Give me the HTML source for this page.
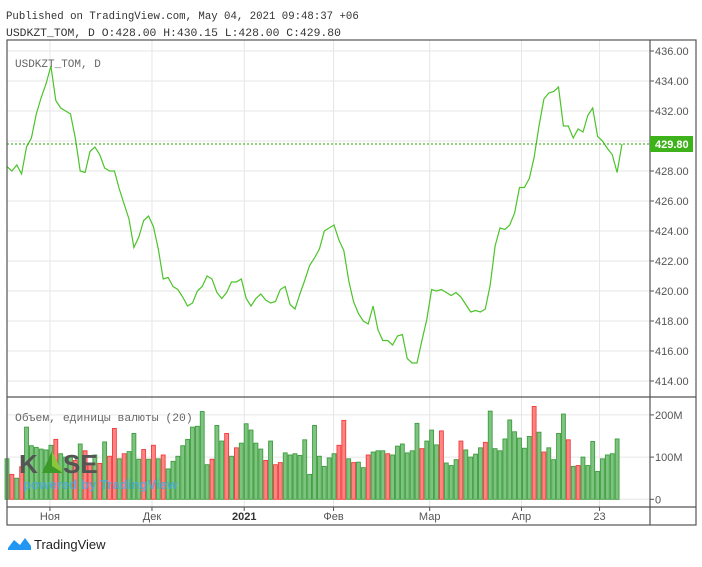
<!DOCTYPE html>
<html><head><meta charset="utf-8"><style>
body{margin:0;background:#fff;width:702px;height:562px;overflow:hidden}
svg text{font-family:"Liberation Sans",sans-serif}
</style></head><body>
<svg id="c" width="702" height="562" xmlns="http://www.w3.org/2000/svg">
<text x="6" y="19" font-size="10.7" fill="#333" style="font-family:'Liberation Mono',monospace">Published on TradingView.com, May 04, 2021 09:48:37 +06</text>
<text x="6" y="36" font-size="11.4" fill="#333" style="font-family:'Liberation Mono',monospace">USDKZT_TOM, D O:428.00 H:430.15 L:428.00 C:429.80</text>
<g id="grid"></g>
<g id="vol"></g>
<g id="logo">
<text x="19" y="473" font-size="26" font-weight="bold" fill="#555">K</text>
<polygon points="42,473 52,451 63,473" fill="#3c9a2a"/>
<polygon points="52,451 63,473 52,466" fill="#8cc63f"/>
<text x="63" y="473" font-size="26" font-weight="bold" fill="#555">SE</text>
<text x="23" y="489" font-size="13.2" font-weight="bold" fill="#4aa8e0" fill-opacity="0.8">powered by TradingView</text>
</g>
<g id="price"></g>
<g id="axes"></g>
<text x="15" y="67" font-size="11" fill="#666" style="font-family:'Liberation Mono',monospace">USDKZT_TOM, D</text>
<text x="15" y="421" font-size="11.4" fill="#666" style="font-family:'Liberation Mono',monospace">Объем, единицы валюты (20)</text>
<g>
<path d="M8,548 L14,540 L20,545 L25,538 L31,546 L31,550 L8,550Z" fill="#2196f3"/>
<text x="34" y="549" font-size="13" fill="#222">TradingView</text>
</g>
</svg>
<script>
const prices=[428.3,428.0,428.4,427.8,429.6,430.2,431.8,432.9,433.8,435.0,432.7,432.2,432.0,431.8,430.2,428.0,427.9,429.3,429.6,429.1,428.2,428.0,428.0,426.8,425.8,424.8,422.9,423.6,424.7,425.0,424.3,422.8,420.8,420.9,420.3,420.1,419.6,419.0,419.2,420.0,420.3,421.0,420.8,419.9,419.5,419.9,420.6,420.6,420.8,419.5,419.0,419.5,419.8,419.4,419.2,419.3,420.1,420.3,419.1,418.8,419.8,420.7,421.7,422.2,422.8,424.0,424.2,424.4,423.4,422.7,420.7,419.3,418.5,418.0,417.8,419.0,417.4,416.7,416.7,416.4,417.0,417.1,415.5,415.2,415.2,416.7,418.1,420.1,420.0,420.1,419.9,419.7,419.9,419.6,419.1,418.6,418.7,418.6,418.8,420.4,423.0,424.2,424.1,424.4,425.2,426.9,426.9,427.5,428.9,431.0,432.8,433.2,433.3,433.6,431.0,431.0,430.2,430.8,430.6,431.7,432.2,430.3,430.0,429.5,429.1,427.9,429.8];
const volumes=[96,59,50,77,171,127,123,119,117,128,142,108,100,100,92,131,115,85,105,85,136,102,168,96,108,113,156,95,118,95,128,96,105,72,90,102,127,142,171,173,208,82,95,175,138,156,102,122,133,179,164,133,119,92,138,82,87,110,105,108,104,141,59,175,102,78,98,108,128,187,96,87,88,75,105,112,115,115,108,105,126,131,110,115,180,120,138,164,129,162,86,80,94,138,117,100,107,122,135,209,120,115,143,188,160,145,121,149,220,159,112,122,94,156,202,141,78,80,100,80,137,66,96,105,108,143];
const volUp="GRGRGGGGGGRGGGRGRRGRGRRGRGGGRGRGRGGGGGGGGGRGGRGRGGGGGRGRRGGGGGGGGGGGRRGRGGRGGGRGGGGGGRGGGRGGGRGGGGRGGGGGGGGGRGRGGGGRGRGGG";
const priceTicks=[414,416,418,420,422,424,426,428,430,432,434,436];
const volTicks=[0,100,200];
const timeLabels=["Ноя","Дек","2021","Фев","Мар","Апр","23"];
const timeIdx=[8.8,29.7,48.6,66.9,86.6,105.4,121.4];
const lastPrice=429.80;
const NS="http://www.w3.org/2000/svg";
const L=7,R=650,PT=40,PB=397,VB=507,FB=525,FR=696;
const xs=i=>7+i*(615/126);
const yP=p=>51+(436-p)*15;
const yV=v=>499.3-v*0.422;
function mk(tag,at,parent){const e=document.createElementNS(NS,tag);for(const k in at)e.setAttribute(k,at[k]);parent.appendChild(e);return e;}
const grid=document.getElementById('grid'),vol=document.getElementById('vol'),price=document.getElementById('price'),axes=document.getElementById('axes');
priceTicks.forEach(p=>{const l=mk('line',{x1:L,x2:R,y1:yP(p),y2:yP(p),stroke:'#e6e6e6'},grid);

});
volTicks.forEach(v=>{const l=mk('line',{x1:L,x2:R,y1:yV(v),y2:yV(v),stroke:'#e6e6e6'},grid);

});
timeIdx.forEach(i=>{const l=mk('line',{x1:xs(i),x2:xs(i),y1:PT,y2:VB,stroke:'#e6e6e6'},grid);

});
const bw=3.9;
volumes.forEach((v,i)=>{const up=volUp[i]!=='R';
const r=mk('rect',{x:xs(i)-bw/2,y:yV(v),width:bw,height:yV(0)-yV(v),fill:up?'#7cc47f':'#ff8585',stroke:up?'#3f9c3f':'#f03c3c','stroke-width':0.9},vol);

});
const pl=mk('polyline',{points:prices.map((p,i)=>xs(i).toFixed(1)+','+yP(p).toFixed(1)).join(' '),fill:'none',stroke:'#4cc32a','stroke-width':1.2},price);


const ll=mk('line',{x1:L,x2:R,y1:yP(lastPrice),y2:yP(lastPrice),stroke:'#2aa800','stroke-dasharray':'2,2'},price);


const fr=mk('rect',{x:L,y:PT,width:FR-L,height:FB-PT,fill:'none',stroke:'#555','stroke-width':1.2},axes);


const ax=mk('line',{x1:R,x2:R,y1:PT,y2:FB,stroke:'#555','stroke-width':1.2},axes);


const sp=mk('line',{x1:L,x2:FR,y1:PB,y2:PB,stroke:'#555','stroke-width':1.2},axes);


const tb=mk('line',{x1:L,x2:FR,y1:VB,y2:VB,stroke:'#555','stroke-width':1.2},axes);


priceTicks.forEach(p=>{mk('line',{x1:R,x2:R+4,y1:yP(p),y2:yP(p),stroke:'#555'},axes);
const t=mk('text',{x:655,y:yP(p)+4,'font-size':11,fill:'#555'},axes);t.textContent=p.toFixed(2);

});
volTicks.forEach(v=>{mk('line',{x1:R,x2:R+4,y1:yV(v),y2:yV(v),stroke:'#555'},axes);
const t=mk('text',{x:655,y:yV(v)+4,'font-size':11,fill:'#555'},axes);t.textContent=v===0?'0':v+'M';

});
timeIdx.forEach((i,k)=>{mk('line',{x1:xs(i),x2:xs(i),y1:VB,y2:VB+4,stroke:'#555'},axes);
const t=mk('text',{x:xs(i),y:520,'font-size':11,fill:'#555','text-anchor':'middle'},axes);t.textContent=timeLabels[k];
if(timeLabels[k]==='2021'){t.setAttribute('font-weight','bold');t.setAttribute('fill','#333');}

});
const bx=mk('rect',{x:R,y:yP(lastPrice)-8,width:43,height:16,fill:'#3db21a'},axes);


const bt=mk('text',{x:655,y:yP(lastPrice)+4,'font-size':11,'font-weight':'bold',fill:'#fff'},axes);bt.textContent=lastPrice.toFixed(2);


</script>
</body></html>
